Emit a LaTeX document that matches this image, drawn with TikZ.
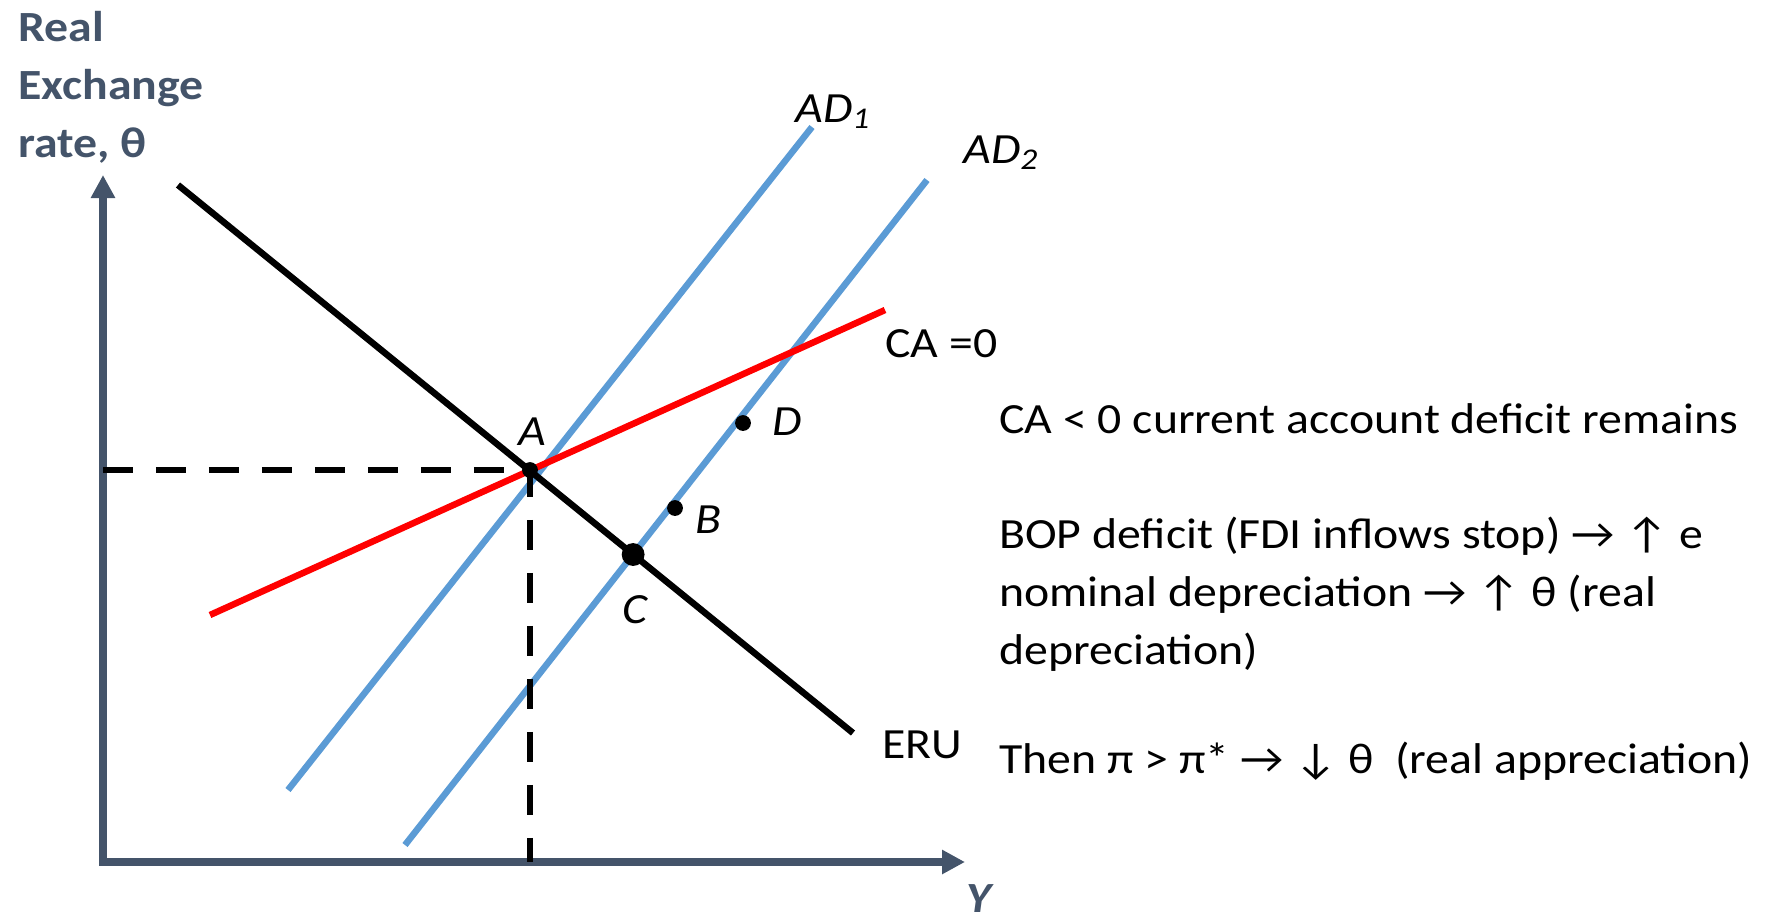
\documentclass[tikz,border=0pt]{standalone}
\usepackage{fontspec}
\setmainfont{Carlito}[FakeStretch=1.11]
\usetikzlibrary{arrows.meta}
\definecolor{myslate}{RGB}{68,84,106}
\definecolor{myblue}{RGB}{91,155,213}
\definecolor{myred}{RGB}{255,0,0}
\tikzset{
  axisline/.style={line width=4pt, color=myslate, line join=miter,
    {Triangle[length=0.46cm,width=0.46cm]}-{Triangle[length=0.46cm,width=0.46cm]}},
  curve/.style={line width=3.7pt},
  adcurve/.style={curve, color=myblue},
  cacurve/.style={curve, color=myred},
  erucurve/.style={curve, color=black},
  guide/.style={line width=3.5pt, dash pattern=on 0.6cm off 0.46cm},
  dot/.style={circle, fill=black, inner sep=0pt, minimum size=#1},
  ptlabel/.style={font=\fontsize{24.5}{30}\selectfont\itshape, inner sep=0pt},
  lbl/.style={font=\fontsize{24.5}{30}\selectfont, inner sep=0pt},
  note/.style={font=\fontsize{24.5}{33}\selectfont, inner sep=0pt, align=left},
  axislabel/.style={font=\fontsize{24.5}{33}\selectfont\bfseries, text=myslate,
    inner sep=0pt, align=left}
}

\begin{document}
\begin{tikzpicture}[x=0.02cm, y=-0.02cm]
  \useasboundingbox (0,0) rectangle (1783,917);

  % Axes
  \coordinate (orig) at (103,862);
  \coordinate (ytip) at (103,175);
  \coordinate (xtip) at (965,862);
  \draw[axisline] (ytip) -- (orig) -- (xtip);
  \node[axislabel, anchor=north west] (ylab) at (18,11) {Real\\Exchange\\rate, θ};
  \node[axislabel, font=\fontsize{24.5}{32}\selectfont\bfseries\itshape, anchor=base west] (xlab) at (966,912) {Y};

  % Curves
  \coordinate (eruA) at (178,185);   \coordinate (eruB) at (853,733);
  \coordinate (adoneA) at (288,790); \coordinate (adoneB) at (812,127);
  \coordinate (adtwoA) at (405,845); \coordinate (adtwoB) at (927,180);
  \coordinate (caA) at (210,615);    \coordinate (caB) at (885,310);
  \draw[adcurve] (adoneA) -- (adoneB);
  \draw[adcurve] (adtwoA) -- (adtwoB);
  \draw[cacurve] (caA) -- (caB);
  \draw[erucurve] (eruA) -- (eruB);
  \node[ptlabel, anchor=base west] (adone) at (795,122) {AD\textsubscript{1}};
  \node[ptlabel, anchor=base west] (adtwo) at (963,163) {AD\textsubscript{2}};
  \node[lbl, anchor=base west] (calab) at (885,357) {CA =0};
  \node[lbl, anchor=base west] (erulab) at (882,758) {ERU};

  % Equilibrium points and guides
  \coordinate (ptA) at (530,470);
  \coordinate (ptC) at (intersection of eruA--eruB and adtwoA--adtwoB);
  \draw[guide] (103,470) -- (ptA) -- (530,862);
  \node[dot=9pt] (dotA) at (ptA) {};
  \node[dot=13pt] (dotC) at (ptC) {};
  \node[dot=9pt] (dotB) at (675,508) {};
  \node[dot=9pt] (dotD) at (743,423) {};
  \node[ptlabel, anchor=base] (labA) at (532,445) {A};
  \node[ptlabel, anchor=base west] (labB) at (695,533) {B};
  \node[ptlabel, anchor=base west] (labC) at (622,623) {C};
  \node[ptlabel, anchor=base west] (labD) at (772,435) {D};

  % Notes
  \node[note, anchor=base west] (noteca) at (999,433) {CA < 0 current account deficit remains};
  \node[note, anchor=north west] (notebop) at (999,517) {BOP deficit (FDI inflows stop) → ↑ e\\nominal depreciation → ↑ θ (real\\depreciation)};
  \node[note, anchor=base west] (notepi) at (999,773) {Then π > π* → ↓ θ \ (real appreciation)};
\end{tikzpicture}
\end{document}
